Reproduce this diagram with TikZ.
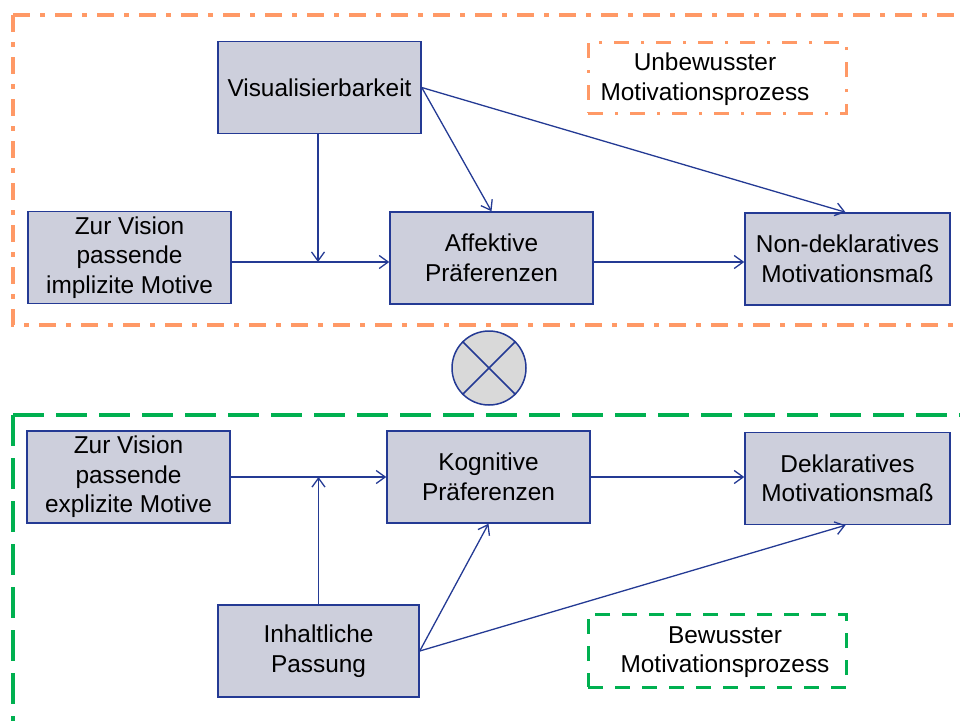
\documentclass[tikz,border=0pt]{standalone}
\usepackage{fontspec}
\setmainfont{Liberation Sans}
\usetikzlibrary{arrows.meta}

\definecolor{boxfill}{RGB}{205,207,220}
\definecolor{navy}{RGB}{36,58,148}
\definecolor{framedge}{RGB}{255,153,102}
\definecolor{greenedge}{RGB}{0,176,80}
\definecolor{knotfill}{RGB}{217,217,217}

\tikzset{
  stepbox/.style={draw=navy, line width=1.5pt, fill=boxfill,
    minimum width=203pt, minimum height=92pt, inner sep=0pt,
    align=center, font=\fontsize{24.4}{29.5}\selectfont},
  link/.style={draw=navy, line width=1.3pt,
    -{Straight Barb[length=9pt,width=13pt,line width=1.3pt]}},
  orangeframe/.style={draw=framedge, line width=3.7pt,
    dash pattern=on 17pt off 10pt on 5pt off 10pt},
  greenframe/.style={draw=greenedge, line width=3.7pt,
    dash pattern=on 31pt off 12pt},
  orangekey/.style={draw=framedge, line width=3pt,
    dash pattern=on 15pt off 12pt on 3pt off 12pt,
    minimum width=258pt, minimum height=71pt, inner sep=0pt},
  greenkey/.style={draw=greenedge, line width=3pt,
    dash pattern=on 15pt off 12pt,
    minimum width=258pt, minimum height=73pt, inner sep=0pt},
  keytext/.style={align=center, inner sep=0pt,
    font=\fontsize{24.4}{29.5}\selectfont}
}

\begin{document}
\begin{tikzpicture}[x=1pt,y=-1pt]
\useasboundingbox (0,0) rectangle (960,720);

% group frames
\draw[orangeframe] (13,15) -- (980,15);
\draw[orangeframe] (13,15) -- (13,325) -- (980,325);
\draw[greenframe] (13,415) -- (980,415);
\draw[greenframe] (13,415) -- (13,740);

% legend boxes
\node[orangekey] (keyU) at (717,77.5) {};
\node[keytext] (keyUtext) at (705,79) {Unbewusster\\Motivationsprozess};
\node[greenkey] (keyB) at (717,650.5) {};
\node[keytext] (keyBtext) at (725,652) {Bewusster\\Motivationsprozess};

% upper process
\node[stepbox] (vis)  at (319.5,87.5) {Visualisierbarkeit};
\node[stepbox] (imp)  at (129.5,257.5) {Zur Vision\\passende\\implizite Motive};
\node[stepbox] (aff)  at (491.5,258) {Affektive\\Präferenzen};
\node[stepbox, minimum width=205pt] (nond) at (847.5,259) {Non-deklaratives\\Motivationsmaß};

% lower process
\node[stepbox] (exp)  at (128.5,477) {Zur Vision\\passende\\explizite Motive};
\node[stepbox] (kog)  at (488.5,477) {Kognitive\\Präferenzen};
\node[stepbox, minimum width=205pt] (dekl) at (847.5,478.5) {Deklaratives\\Motivationsmaß};
\node[stepbox, minimum width=201pt] (inh)  at (318.5,651) {Inhaltliche\\Passung};

% interaction symbol
\node[circle, draw=navy, line width=1.5pt, fill=knotfill, minimum size=74pt,
  inner sep=0pt] (knot) at (489,368) {};
\draw[navy, line width=1.5pt] (knot.north west) -- (knot.south east);
\draw[navy, line width=1.5pt] (knot.north east) -- (knot.south west);

% upper connectors
\coordinate (meet) at (318,262);
\draw[link] (imp.east |- meet) -- (aff.west |- meet);
\draw[link] (vis.south -| meet) -- (meet);
\draw[link] (vis.east) -- (aff.north);
\draw[link] (vis.east) -- ([xshift=-2pt]nond.north);
\draw[link] (aff.east |- meet) -- (nond.west |- meet);

% lower connectors
\draw[link] (exp.east) -- (kog.west |- exp.east);
\draw[link] (inh.north) -- (inh.north |- exp.east);
\draw[link] (inh.east) -- (kog.south);
\draw[link] (inh.east) -- ([xshift=-2pt]dekl.south);
\draw[link] (kog.east) -- (dekl.west |- kog.east);
\end{tikzpicture}
\end{document}
